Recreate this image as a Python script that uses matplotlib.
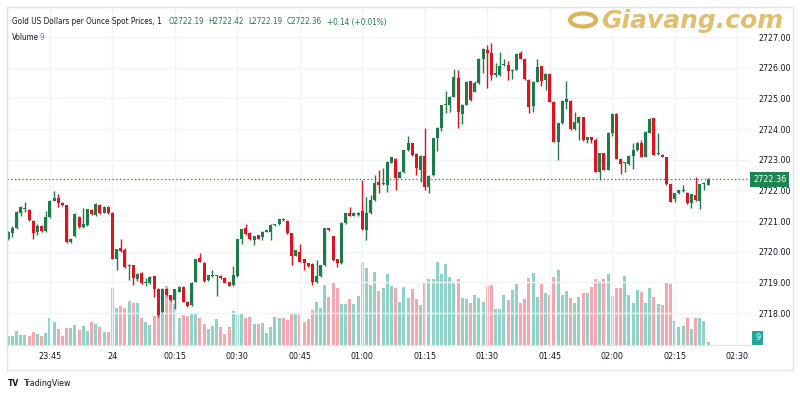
import numpy as np
import matplotlib
matplotlib.use("Agg")
import matplotlib.pyplot as plt
from matplotlib.patches import Rectangle, Circle

# one-minute candles, 23:35 .. 02:23
opens = [
    2720.43, 2720.62, 2720.78, 2721.27, 2721.40, 2721.36, 2721.00, 2720.65, 2720.83, 2720.67,
    2721.12, 2721.66, 2721.74, 2721.60, 2721.51, 2720.32, 2720.51, 2721.12, 2720.80, 2720.87,
    2721.36, 2721.20, 2721.53, 2721.27, 2721.47, 2721.27, 2719.78, 2720.13, 2720.05, 2719.53,
    2719.56, 2719.10, 2719.31, 2718.98, 2718.97, 2719.20, 2718.80, 2718.04, 2718.80, 2718.58,
    2718.42, 2718.70, 2718.86, 2718.37, 2718.26, 2719.02, 2719.81, 2719.64, 2719.07, 2719.20,
    2719.20, 2719.20, 2719.16, 2719.00, 2718.91, 2719.20, 2720.40, 2720.76, 2720.62, 2720.38,
    2720.54, 2720.49, 2720.65, 2720.65, 2720.87, 2720.90, 2721.06, 2721.00, 2720.60, 2719.87,
    2719.98, 2719.75, 2719.62, 2719.60, 2719.00, 2719.20, 2719.56, 2720.76, 2720.51, 2719.76,
    2719.62, 2720.94, 2721.25, 2721.17, 2721.20, 2721.34, 2720.71, 2721.25, 2721.68, 2722.28,
    2722.20, 2722.17, 2722.90, 2723.04, 2722.42, 2722.60, 2723.31, 2723.53, 2723.20, 2722.68,
    2723.12, 2722.12, 2722.50, 2723.70, 2724.05, 2724.78, 2724.80, 2725.05, 2725.67, 2724.50,
    2724.80, 2725.56, 2725.22, 2725.49, 2726.27, 2726.58, 2726.49, 2725.76, 2725.76, 2726.10,
    2726.09, 2725.90, 2725.93, 2726.49, 2726.30, 2725.60, 2724.75, 2725.54, 2726.05, 2725.60,
    2725.80, 2724.89, 2723.59, 2724.19, 2724.89, 2724.92, 2723.99, 2724.20, 2724.38, 2723.64,
    2723.73, 2723.66, 2722.61, 2723.21, 2722.68, 2723.88, 2724.49, 2723.04, 2722.90, 2722.85,
    2723.12, 2723.32, 2723.55, 2723.10, 2723.88, 2724.35, 2723.18, 2723.17, 2723.08, 2722.20,
    2721.71, 2721.90, 2721.98, 2721.92, 2721.58, 2721.84, 2721.67, 2722.20, 2722.19,
]
highs = [
    2720.67, 2720.85, 2721.32, 2721.50, 2721.62, 2721.38, 2721.03, 2720.92, 2720.86, 2721.32,
    2721.68, 2721.99, 2721.88, 2721.62, 2721.53, 2720.45, 2721.25, 2721.15, 2721.44, 2721.40,
    2721.38, 2721.60, 2721.55, 2721.50, 2721.50, 2721.29, 2720.10, 2720.40, 2720.12, 2719.60,
    2719.58, 2719.30, 2719.33, 2719.16, 2719.20, 2719.22, 2718.82, 2718.82, 2718.82, 2718.60,
    2718.80, 2718.88, 2718.88, 2718.39, 2719.01, 2719.78, 2719.97, 2719.66, 2719.25, 2719.40,
    2719.24, 2719.24, 2719.18, 2719.02, 2719.53, 2720.42, 2720.75, 2720.92, 2720.64, 2720.53,
    2720.56, 2720.67, 2720.72, 2720.89, 2720.92, 2721.08, 2721.10, 2721.02, 2720.62, 2720.07,
    2720.25, 2719.77, 2719.64, 2719.62, 2719.73, 2719.58, 2720.78, 2720.78, 2720.53, 2719.78,
    2720.96, 2721.27, 2721.46, 2721.29, 2721.29, 2722.34, 2721.80, 2721.85, 2722.50, 2722.66,
    2722.72, 2722.95, 2723.10, 2723.06, 2722.63, 2723.33, 2723.77, 2723.55, 2723.22, 2723.14,
    2724.05, 2722.49, 2723.72, 2724.07, 2724.80, 2725.25, 2725.07, 2725.95, 2725.92, 2724.82,
    2725.56, 2725.58, 2725.56, 2726.33, 2726.63, 2726.74, 2726.82, 2726.17, 2726.52, 2726.30,
    2726.22, 2725.95, 2726.47, 2726.55, 2726.32, 2725.62, 2725.56, 2726.30, 2726.07, 2725.82,
    2725.82, 2724.91, 2724.21, 2724.94, 2725.58, 2724.94, 2724.57, 2724.42, 2724.40, 2723.75,
    2723.75, 2723.70, 2723.23, 2723.23, 2723.90, 2724.53, 2724.51, 2723.06, 2722.94, 2723.14,
    2723.55, 2723.57, 2723.66, 2723.93, 2724.35, 2724.37, 2723.86, 2723.19, 2723.10, 2722.22,
    2721.92, 2722.02, 2722.17, 2721.94, 2721.89, 2722.45, 2722.22, 2722.26, 2722.42,
]
lows = [
    2720.38, 2720.49, 2720.75, 2721.16, 2721.30, 2721.00, 2720.43, 2720.54, 2720.64, 2720.65,
    2721.10, 2721.64, 2721.46, 2721.48, 2720.30, 2720.27, 2720.48, 2720.78, 2720.77, 2720.85,
    2721.20, 2721.18, 2721.24, 2721.25, 2721.24, 2719.76, 2719.42, 2720.00, 2719.48, 2719.07,
    2718.91, 2719.05, 2718.95, 2718.88, 2718.95, 2718.51, 2717.88, 2718.00, 2718.55, 2718.40,
    2718.15, 2718.68, 2718.35, 2718.20, 2718.24, 2719.00, 2719.65, 2719.03, 2719.05, 2719.18,
    2718.55, 2719.10, 2718.97, 2718.87, 2718.89, 2719.18, 2720.25, 2720.55, 2720.38, 2720.22,
    2720.41, 2720.38, 2720.63, 2720.38, 2720.85, 2720.88, 2721.00, 2720.58, 2719.56, 2719.85,
    2719.65, 2719.40, 2719.51, 2718.91, 2718.98, 2719.18, 2719.54, 2720.68, 2719.71, 2719.51,
    2719.60, 2720.92, 2721.15, 2721.15, 2721.18, 2720.71, 2720.38, 2721.23, 2721.66, 2721.90,
    2722.18, 2721.95, 2722.88, 2722.01, 2722.40, 2722.58, 2723.29, 2723.13, 2722.50, 2722.28,
    2722.00, 2721.92, 2722.48, 2723.30, 2723.95, 2724.51, 2724.55, 2725.03, 2724.05, 2724.18,
    2724.78, 2724.90, 2725.20, 2725.47, 2725.82, 2725.33, 2725.60, 2725.71, 2725.74, 2726.05,
    2725.60, 2725.62, 2725.91, 2726.28, 2725.61, 2724.51, 2724.56, 2725.52, 2725.40, 2725.27,
    2724.87, 2723.57, 2722.99, 2724.17, 2724.67, 2723.97, 2723.97, 2723.64, 2723.62, 2723.53,
    2723.56, 2722.59, 2722.34, 2722.66, 2722.66, 2723.78, 2723.02, 2722.53, 2722.61, 2722.83,
    2722.69, 2723.30, 2723.08, 2723.08, 2723.86, 2723.15, 2723.16, 2723.08, 2722.18, 2721.61,
    2721.63, 2721.88, 2721.96, 2721.56, 2721.44, 2721.67, 2721.41, 2722.01, 2722.19,
]
closes = [
    2720.63, 2720.78, 2721.29, 2721.47, 2721.42, 2721.03, 2720.62, 2720.83, 2720.67, 2721.14,
    2721.66, 2721.74, 2721.60, 2721.51, 2720.32, 2720.43, 2721.23, 2720.81, 2720.90, 2721.38,
    2721.23, 2721.55, 2721.27, 2721.47, 2721.27, 2719.78, 2720.08, 2720.02, 2719.51, 2719.55,
    2719.13, 2719.27, 2718.97, 2719.00, 2719.18, 2718.80, 2717.93, 2718.80, 2718.58, 2718.42,
    2718.78, 2718.86, 2718.37, 2718.24, 2718.99, 2719.76, 2719.67, 2719.05, 2719.23, 2719.22,
    2719.22, 2719.13, 2718.99, 2718.89, 2719.24, 2720.40, 2720.73, 2720.57, 2720.40, 2720.51,
    2720.43, 2720.65, 2720.70, 2720.87, 2720.90, 2721.06, 2721.04, 2720.60, 2719.86, 2720.05,
    2719.67, 2719.64, 2719.53, 2719.02, 2719.20, 2719.56, 2720.76, 2720.70, 2719.73, 2719.64,
    2720.94, 2721.25, 2721.17, 2721.27, 2721.27, 2720.73, 2721.25, 2721.68, 2722.25, 2722.17,
    2722.25, 2722.93, 2723.08, 2722.42, 2722.61, 2723.31, 2723.53, 2723.15, 2722.72, 2723.12,
    2722.12, 2722.47, 2723.70, 2724.05, 2724.78, 2724.80, 2725.05, 2725.71, 2724.56, 2724.80,
    2725.54, 2724.95, 2725.51, 2726.30, 2726.61, 2726.49, 2725.76, 2725.82, 2726.05, 2726.12,
    2725.90, 2725.93, 2726.45, 2726.30, 2725.63, 2724.73, 2725.54, 2726.03, 2725.56, 2725.80,
    2724.89, 2723.59, 2724.19, 2724.92, 2724.97, 2723.99, 2724.24, 2724.40, 2723.64, 2723.73,
    2723.66, 2722.61, 2723.21, 2722.68, 2723.88, 2724.49, 2723.04, 2722.85, 2722.92, 2723.12,
    2723.32, 2723.55, 2723.10, 2723.91, 2724.33, 2723.17, 2723.21, 2723.10, 2722.20, 2721.63,
    2721.90, 2722.00, 2722.00, 2721.58, 2721.87, 2721.69, 2722.20, 2722.24, 2722.36,
]
volumes = [
    27, 27, 42, 30, 30, 27, 39, 33, 27, 36, 81, 69, 48, 27, 51, 51, 60, 45, 57, 42,
    69, 63, 54, 39, 39, 171, 111, 117, 111, 132, 126, 126, 81, 69, 60, 87, 162, 96, 177, 141,
    123, 81, 90, 87, 96, 93, 81, 63, 48, 57, 78, 54, 33, 54, 102, 90, 93, 81, 84, 63,
    63, 66, 36, 54, 84, 81, 81, 75, 93, 96, 96, 69, 78, 105, 129, 111, 180, 144, 189, 171,
    123, 123, 138, 123, 147, 249, 231, 180, 219, 162, 171, 213, 177, 171, 129, 174, 141, 168, 138, 120,
    189, 198, 198, 249, 213, 243, 204, 189, 198, 141, 138, 126, 150, 141, 129, 177, 180, 108, 108, 150,
    135, 165, 183, 126, 138, 201, 216, 144, 183, 156, 150, 204, 225, 150, 162, 141, 126, 144, 156, 156,
    174, 198, 192, 198, 213, 147, 171, 171, 207, 150, 126, 165, 159, 126, 171, 144, 123, 120, 189, 183,
    72, 54, 57, 81, 48, 81, 81, 72, 9,
]
tick_labels = ["23:45", "24", "00:15", "00:30", "00:45", "01:00", "01:15",
               "01:30", "01:45", "02:00", "02:15", "02:30"]
price_ticks = [2718, 2719, 2720, 2721, 2722, 2723, 2724, 2725, 2726, 2727]
last_price = 2722.36

UP = "#1f7a4a"
DOWN = "#e0121b"
VOL_UP = "#8fd3c7"
VOL_DOWN = "#f7a6ad"
GRID = "#f0f3fa"
BORDER = "#e0e3eb"
TXT = "#131722"
NARROW = dict(family="DejaVu Sans", stretch="condensed")

o = np.array(opens)
h = np.array(highs)
l = np.array(lows)
c = np.array(closes)
v = np.array(volumes)
x = np.arange(len(o))
up = c >= o

W, H = 800, 400
fig = plt.figure(figsize=(8, 4), dpi=100)
ax = fig.add_axes([7 / W, 55 / H, 743 / W, 338 / H])
vax = ax.twinx()

ax.set_xlim(-0.31, 178.08)
ax.set_ylim(2716.96, 2727.98)
vax.set_ylim(0, 1014)

# grid
for p in price_ticks:
    ax.axhline(p, color=GRID, lw=1, zorder=0)
tick_pos = [10 + 15 * i for i in range(len(tick_labels))]
for t in tick_pos:
    ax.axvline(t, color=GRID, lw=1, zorder=0)

# volume
vax.bar(x, v, width=0.72, color=np.where(up, VOL_UP, VOL_DOWN), zorder=1)
vax.set_yticks([])
ax.set_zorder(vax.get_zorder() + 1)
ax.patch.set_visible(False)

# candles
cols = np.where(up, UP, DOWN)
ax.vlines(x, l, h, colors=cols, lw=1, zorder=3)
body = np.maximum(np.abs(c - o), 0.03)
ax.bar(x, body, bottom=np.minimum(o, c), width=0.72, color=cols, zorder=4)

ax.axhline(last_price, color=UP, lw=0.9, ls=(0, (1, 2)), zorder=2)

# axes look
ax.yaxis.tick_right()
ax.set_yticks(price_ticks)
ax.set_yticklabels([f"{p:.2f}" for p in price_ticks], fontsize=6.3, color=TXT, **NARROW)
ax.tick_params(axis="y", length=0, pad=6)
ax.set_xticks(tick_pos)
ax.set_xticklabels(tick_labels, fontsize=6.5, color=TXT, **NARROW)
ax.tick_params(axis="x", length=0, pad=5)
for s in ["top", "left", "bottom"]:
    ax.spines[s].set_color(BORDER)
ax.spines["right"].set_visible(False)
for s in vax.spines.values():
    s.set_visible(False)

# outer box
fig.patches.append(Rectangle((7 / W, 30 / H), 786 / W, 363 / H, transform=fig.transFigure,
                             fill=False, ec=BORDER, lw=1))

# price tags
ax.text(1.0 + 3 / 743, last_price, "2722.36", transform=ax.get_yaxis_transform(),
        ha="left", va="center", fontsize=6.5, color="white",
        bbox=dict(boxstyle="square,pad=0.3", fc="#1e8450", ec="none"), **NARROW)
fig.text(755 / W, 1 - 338 / H, "9", ha="left", va="center", fontsize=6.6, color="white",
         bbox=dict(boxstyle="square,pad=0.3", fc="#26a69a", ec="none"), **NARROW)

# header
fig.text(12 / W, 1 - 22 / H, "Gold US Dollars per Ounce Spot Prices, 1", fontsize=5.9,
         color=TXT, va="center", **NARROW)
for px, s in [(169, "O2722.19"), (208, "H2722.42"), (248, "L2722.19"),
              (287, "C2722.36"), (327, "+0.14 (+0.01%)")]:
    fig.text(px / W, 1 - 22 / H, s, fontsize=5.9, color=UP, va="center", **NARROW)
fig.text(12 / W, 1 - 37 / H, "Volume", fontsize=5.9, color=TXT, va="center", **NARROW)
fig.text(40 / W, 1 - 37 / H, "9", fontsize=5.9, color="#26a69a", va="center", **NARROW)

# watermark
fig.patches.append(Circle((583 / W, 1 - 20 / H), 13 / W, transform=fig.transFigure,
                          fill=False, ec="#d9b45a", lw=3))
fig.text(601 / W, 1 - 21 / H, "Giavang.com", fontsize=18, fontweight="bold", style="italic",
         color="#dcb860", va="center", alpha=0.9)

# footer
fig.text(8 / W, 1 - 383 / H, "TV", fontsize=5.5, fontweight="bold", color=TXT, va="center")
fig.text(23 / W, 1 - 383 / H, "TradingView", fontsize=6.3, color=TXT, va="center", **NARROW)

fig.savefig("out.png", dpi=100, facecolor="white")
